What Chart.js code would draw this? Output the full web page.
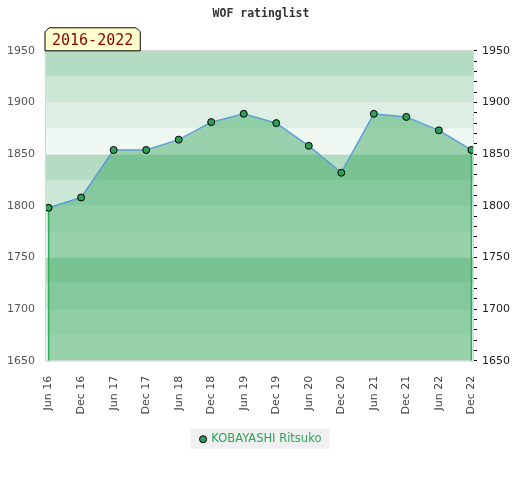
<!DOCTYPE html>
<html>
<head>
<meta charset="utf-8">
<title>WOF ratinglist</title>
<script src="https://cdn.jsdelivr.net/npm/chart.js@4.4.1/dist/chart.umd.min.js"></script>
<style>
    html, body { margin: 0; padding: 0; background: #fff; }
    #caixa { width: 520px; height: 480px; position: relative; }
</style>
</head>
<body>
<div id="caixa"><canvas id="myChartRating"></canvas></div>
<script>
// dados
const labelsRating = ['Jun 16', 'Dec 16', 'Jun 17', 'Dec 17', 'Jun 18', 'Dec 18', 'Jun 19',
    'Dec 19', 'Jun 20', 'Dec 20', 'Jun 21', 'Dec 21', 'Jun 22', 'Dec 22'];
const valoresRating = [1798, 1808, 1854, 1854, 1864, 1881, 1889, 1880, 1858, 1832, 1889, 1886, 1873, 1854];
const nomeJogador = 'KOBAYASHI Ritsuko';
const periodo = '2016-2022';
const ratingMin = 1650;
const ratingMax = 1950;

Chart.defaults.font.family = "'DejaVu Sans', sans-serif";

// faixas de fundo a cada 25 pontos
const faixasPlugin = {
    id: 'faixas',
    beforeDraw(chart, args, opts) {
        const { ctx, chartArea } = chart;
        const y = chart.scales.y;
        ctx.save();
        for (let v = y.min; v < y.max; v += opts.passo) {
            ctx.fillStyle = opts.cores[(v % 100) / opts.passo];
            const topo = y.getPixelForValue(v + opts.passo);
            const base = y.getPixelForValue(v);
            ctx.fillRect(chartArea.left, topo, chartArea.right - chartArea.left, base - topo);
        }
        // caixa cinza da legenda
        const hb = chart.legend && chart.legend.legendHitBoxes[0];
        if (hb) {
            ctx.fillStyle = opts.fundoLegenda;
            ctx.fillRect(hb.left - 10, hb.top - 5, hb.width + 18, hb.height + 9);
        }
        ctx.restore();
    }
};

// linhas verdes verticais nas pontas da area
const bordasPlugin = {
    id: 'bordas',
    beforeDatasetsDraw(chart, args, opts) {
        const { ctx, chartArea } = chart;
        const pts = chart.getDatasetMeta(0).data;
        if (!pts.length) return;
        ctx.save();
        ctx.strokeStyle = opts.cor;
        ctx.lineWidth = 1.5;
        [pts[0], pts[pts.length - 1]].forEach(p => {
            ctx.beginPath();
            ctx.moveTo(p.x, p.y);
            ctx.lineTo(p.x, chartArea.bottom);
            ctx.stroke();
        });
        ctx.restore();
    },
    afterDatasetsDraw(chart) {
        const { ctx, chartArea } = chart;
        ctx.save();
        ctx.strokeStyle = '#d6d6d6';
        ctx.lineWidth = 1;
        ctx.strokeRect(chartArea.left - 0.5, chartArea.top - 0.5,
            chartArea.right - chartArea.left + 1, chartArea.bottom - chartArea.top + 1);
        ctx.restore();
    }
};

// etiqueta amarela do periodo
const etiquetaPlugin = {
    id: 'etiqueta',
    afterDraw(chart, args, opts) {
        const { ctx, chartArea } = chart;
        const x0 = chartArea.left - 1;
        const y1 = chartArea.top;
        const y0 = y1 - 23;
        ctx.save();
        ctx.font = "15px 'DejaVu Sans Mono', monospace";
        const w = ctx.measureText(opts.texto).width + 14;
        ctx.beginPath();
        ctx.moveTo(x0, y1);
        ctx.lineTo(x0, y0 + 4);
        ctx.lineTo(x0 + 4, y0);
        ctx.lineTo(x0 + w - 4, y0);
        ctx.lineTo(x0 + w, y0 + 4);
        ctx.lineTo(x0 + w, y1);
        ctx.closePath();
        ctx.fillStyle = '#ffffcc';
        ctx.fill();
        ctx.strokeStyle = '#000';
        ctx.lineWidth = 1;
        ctx.stroke();
        ctx.fillStyle = '#8b0000';
        ctx.textBaseline = 'middle';
        ctx.fillText(opts.texto, x0 + 7, y0 + 13);
        ctx.restore();
    }
};

const ctxRating = document.getElementById('myChartRating');
const dataRating = {
    datasets: [{
        label: nomeJogador,
        data: valoresRating.map((v, i) => ({ x: i, y: v })),
        borderColor: '#5b9fd8',
        borderWidth: 1.5,
        backgroundColor: 'rgba(58, 168, 96, 0.48)',
        fill: 'start',
        tension: 0,
        pointRadius: 3.5,
        pointHoverRadius: 3.5,
        pointBackgroundColor: '#2f9e58',
        pointBorderColor: '#000',
        pointBorderWidth: 1
    }]
};

const configRating = {
    type: 'line',
    data: dataRating,
    plugins: [faixasPlugin, bordasPlugin, etiquetaPlugin],
    options: {
        responsive: true,
        maintainAspectRatio: false,
        animation: false,
        layout: { padding: { left: 7, right: 5, top: 0, bottom: 25 } },
        scales: {
            x: {
                type: 'linear',
                min: -0.08,
                max: 13.05,
                grid: { display: false },
                border: { display: false },
                afterFit: s => { s.paddingLeft = 0; s.paddingRight = 0; },
                ticks: {
                    stepSize: 1,
                    includeBounds: false,
                    autoSkip: false,
                    minRotation: 90,
                    maxRotation: 90,
                    padding: 7,
                    color: '#444',
                    font: { size: 11 },
                    callback: v => labelsRating[v] || ''
                }
            },
            y: {
                position: 'left',
                min: ratingMin,
                max: ratingMax,
                grid: { color: 'rgba(228, 232, 230, 0.8)', drawTicks: false },
                border: { display: false },
                afterFit: s => { s.width = 39; },
                ticks: {
                    stepSize: 50,
                    padding: 11,
                    color: '#555',
                    font: { size: 11 },
                    callback: v => String(v)
                }
            },
            y2: {
                position: 'right',
                min: ratingMin,
                max: ratingMax,
                grid: { drawOnChartArea: false, drawTicks: true, tickLength: 4, color: '#000' },
                border: { display: false },
                ticks: {
                    stepSize: 10,
                    autoSkip: false,
                    padding: 5,
                    color: '#222',
                    font: { size: 11 },
                    callback: v => (v % 50 === 0 ? String(v) : '')
                }
            }
        },
        plugins: {
            title: {
                display: true,
                text: 'WOF ratinglist',
                color: '#333',
                font: { family: "'DejaVu Sans Mono', monospace", size: 11.5, weight: 'bold' },
                padding: { top: 7, bottom: 30 }
            },
            legend: {
                position: 'bottom',
                labels: {
                    usePointStyle: true,
                    pointStyle: 'circle',
                    boxWidth: 5,
                    boxHeight: 5,
                    padding: 12,
                    color: '#2ea35a',
                    font: { size: 11.5 }
                }
            },
            tooltip: { enabled: false },
            faixas: {
                passo: 25,
                cores: ['#cbe7d6', '#b3dcc2', '#f0f8f3', '#ddefe4'],
                fundoLegenda: '#f0f0f0'
            },
            bordas: { cor: '#2fae5a' },
            etiqueta: { texto: periodo }
        }
    }
};

new Chart(ctxRating, configRating);
</script>
</body>
</html>
